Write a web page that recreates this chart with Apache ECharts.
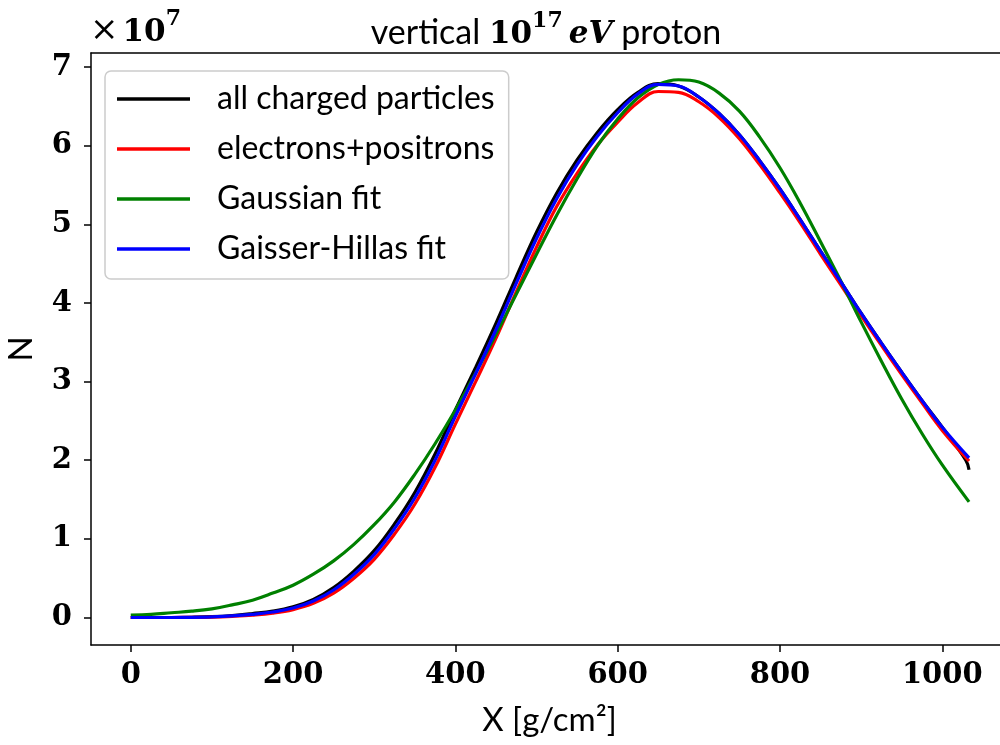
<!DOCTYPE html>
<html>
<head>
<meta charset="utf-8">
<script src="https://cdn.jsdelivr.net/npm/echarts@6/dist/echarts.min.js"></script>
<style>
  html, body { margin: 0; padding: 0; background: #fff; }
  #chart { width: 1000px; height: 745px; }
</style>
</head>
<body>
<div id="chart"></div>
<script>
// depth X in g/cm2, particle numbers in units of 1e7
var depth = [0, 25, 50, 75, 100, 125, 150, 175, 200, 225, 250, 275, 300, 325, 350, 375, 400, 425, 450, 475, 500,
  525, 550, 575, 600, 625, 650, 675, 700, 725, 750, 775, 800, 825, 850, 875, 900, 925, 950, 975, 1000, 1033];
var depthCharged = [0, 25, 50, 75, 100, 125, 150, 175, 200, 225, 250, 275, 300, 325, 350, 375, 400, 425, 450, 475, 500,
  525, 550, 575, 600, 625, 650, 675, 700, 725, 750, 775, 800, 825, 850, 875, 900, 925, 950, 975, 1000, 1029, 1033];

var allCharged = [0, 0, 0, 0.003, 0.01, 0.025, 0.05, 0.08, 0.135, 0.23, 0.38, 0.59, 0.85, 1.19, 1.59, 2.08, 2.64, 3.18, 3.74, 4.33, 4.90,
  5.40, 5.82, 6.17, 6.46, 6.68, 6.79, 6.76, 6.62, 6.41, 6.14, 5.81, 5.45, 5.06, 4.66, 4.27, 3.87, 3.49, 3.12, 2.76, 2.42, 2.00, 1.88];
var electrons = [0, 0, 0, 0.001, 0.005, 0.015, 0.03, 0.055, 0.10, 0.18, 0.31, 0.50, 0.74, 1.06, 1.44, 1.91, 2.46, 3.00, 3.55, 4.14, 4.71,
  5.23, 5.65, 6.01, 6.30, 6.55, 6.69, 6.68, 6.56, 6.36, 6.09, 5.76, 5.40, 5.02, 4.62, 4.23, 3.84, 3.46, 3.09, 2.73, 2.38, 1.99];
var gaussFit = [0.03, 0.04, 0.06, 0.08, 0.11, 0.16, 0.22, 0.31, 0.41, 0.55, 0.72, 0.93, 1.18, 1.47, 1.82, 2.21, 2.64, 3.11, 3.60, 4.11, 4.62,
  5.12, 5.58, 6.00, 6.34, 6.61, 6.78, 6.84, 6.81, 6.67, 6.44, 6.11, 5.72, 5.27, 4.78, 4.28, 3.76, 3.26, 2.78, 2.34, 1.94, 1.47];
var ghFit = [0, 0, 0, 0.002, 0.008, 0.02, 0.04, 0.07, 0.12, 0.21, 0.35, 0.55, 0.80, 1.13, 1.52, 2.00, 2.56, 3.10, 3.66, 4.25, 4.82,
  5.33, 5.76, 6.12, 6.42, 6.66, 6.78, 6.76, 6.62, 6.41, 6.14, 5.81, 5.45, 5.06, 4.66, 4.27, 3.87, 3.49, 3.12, 2.76, 2.42, 2.03];

var seriesNames = ["all charged particles", "electrons+positrons", "Gaussian fit", "Gaisser-Hillas fit"];
var seriesColors = ["#000000", "#ff0000", "#008000", "#0000ff"];
var xTicks = [0, 200, 400, 600, 800, 1000];
var yTicks = [0, 1, 2, 3, 4, 5, 6, 7];

var SANS = "Lato, 'Noto Sans', sans-serif";
var SERIF = "'DejaVu Serif', serif";

function pairs(xs, ys) {
  return xs.map(function (x, i) { return [x, ys[i]]; });
}

var chartDom = document.getElementById("chart");
var myChart = echarts.init(chartDom, null, { renderer: "canvas" });
var option;

var lineSeries = [
  pairs(depthCharged, allCharged),
  pairs(depth, electrons),
  pairs(depth, gaussFit),
  pairs(depth, ghFit)
].map(function (d, i) {
  return {
    name: seriesNames[i],
    type: "line",
    data: d,
    smooth: 0.4,
    symbol: "none",
    animation: false,
    lineStyle: { color: seriesColors[i], width: 3.2 },
    itemStyle: { color: seriesColors[i] },
    z: 2 + i
  };
});

option = {
  backgroundColor: "#ffffff",
  animation: false,
  grid: {
    left: 91,
    right: -8,
    top: 53,
    bottom: 100,
    outerBoundsMode: "none"
  },
  legend: {
    orient: "vertical",
    left: 105,
    top: 71,
    data: seriesNames,
    icon: "rect",
    itemWidth: 73,
    itemHeight: 3.5,
    itemGap: 12,
    padding: [9, 14, 11, 12],
    backgroundColor: "rgba(255,255,255,0.8)",
    borderColor: "#cccccc",
    borderWidth: 1.5,
    borderRadius: 6,
    textStyle: {
      fontFamily: SANS,
      fontSize: 32,
      color: "#000",
      lineHeight: 38,
      padding: [0, 0, 0, 22]
    }
  },
  xAxis: [
    {
      type: "value",
      min: -49,
      max: 1081,
      name: "X [g/cm²]",
      nameLocation: "middle",
      nameGap: 55,
      nameTextStyle: { fontFamily: SANS, fontSize: 33, color: "#000", lineHeight: 40 },
      axisLine: { show: true, onZero: false, lineStyle: { color: "#000", width: 1.5 } },
      axisTick: { show: true, customValues: xTicks, length: 7, lineStyle: { color: "#000", width: 1.5 } },
      axisLabel: {
        customValues: xTicks,
        formatter: function (v) { return String(v); },
        margin: 15,
        fontFamily: SERIF,
        fontWeight: "bold",
        fontSize: 29,
        lineHeight: 30,
        color: "#000"
      },
      splitLine: { show: false }
    },
    {
      type: "value",
      position: "top",
      min: -49,
      max: 1081,
      axisLine: { show: true, onZero: false, lineStyle: { color: "#000", width: 1.5 } },
      axisTick: { show: false },
      axisLabel: { show: false },
      splitLine: { show: false }
    }
  ],
  yAxis: {
    type: "value",
    min: -0.35,
    max: 7.18,
    name: "N",
    nameLocation: "middle",
    nameGap: 42,
    nameRotate: 90,
    nameTextStyle: { fontFamily: SANS, fontSize: 33, color: "#000", lineHeight: 40 },
    axisLine: { show: true, onZero: false, lineStyle: { color: "#000", width: 1.5 } },
    axisTick: { show: true, customValues: yTicks, length: 7, lineStyle: { color: "#000", width: 1.5 } },
    axisLabel: {
      customValues: yTicks,
      formatter: function (v) { return String(v); },
      margin: 19,
      fontFamily: SERIF,
      fontWeight: "bold",
      fontSize: 29,
      color: "#000"
    },
    splitLine: { show: false }
  },
  graphic: [
    {
      type: "text",
      x: 546,
      y: 30,
      style: {
        text: "{s|vertical }{b|10}{sup|17}{mi|eV}{s| proton}",
        align: "center",
        verticalAlign: "middle",
        rich: {
          s: { fontFamily: SANS, fontSize: 34, color: "#000", lineHeight: 40, verticalAlign: "bottom" },
          b: { fontFamily: SERIF, fontWeight: "bold", fontSize: 31, color: "#000", lineHeight: 40, verticalAlign: "bottom" },
          sup: { fontFamily: SERIF, fontWeight: "bold", fontSize: 22, color: "#000", lineHeight: 22, verticalAlign: "top", padding: [0, 6, 0, 0] },
          mi: { fontFamily: SERIF, fontWeight: "bold", fontStyle: "italic", fontSize: 31, color: "#000", lineHeight: 40, verticalAlign: "bottom" }
        }
      }
    },
    {
      type: "text",
      x: 90,
      y: 8,
      style: {
        text: "{x|×}{b|10}{sup|7}",
        rich: {
          x: { fontFamily: SERIF, fontSize: 34, color: "#000", lineHeight: 40, verticalAlign: "bottom", padding: [0, 4, 0, 0] },
          b: { fontFamily: SERIF, fontWeight: "bold", fontSize: 31, color: "#000", lineHeight: 40, verticalAlign: "bottom" },
          sup: { fontFamily: SERIF, fontWeight: "bold", fontSize: 22, color: "#000", lineHeight: 22, verticalAlign: "top" }
        }
      }
    }
  ],
  series: lineSeries
};

option && myChart.setOption(option);
window.addEventListener("resize", function () {
  myChart.resize();
});
</script>
</body>
</html>
